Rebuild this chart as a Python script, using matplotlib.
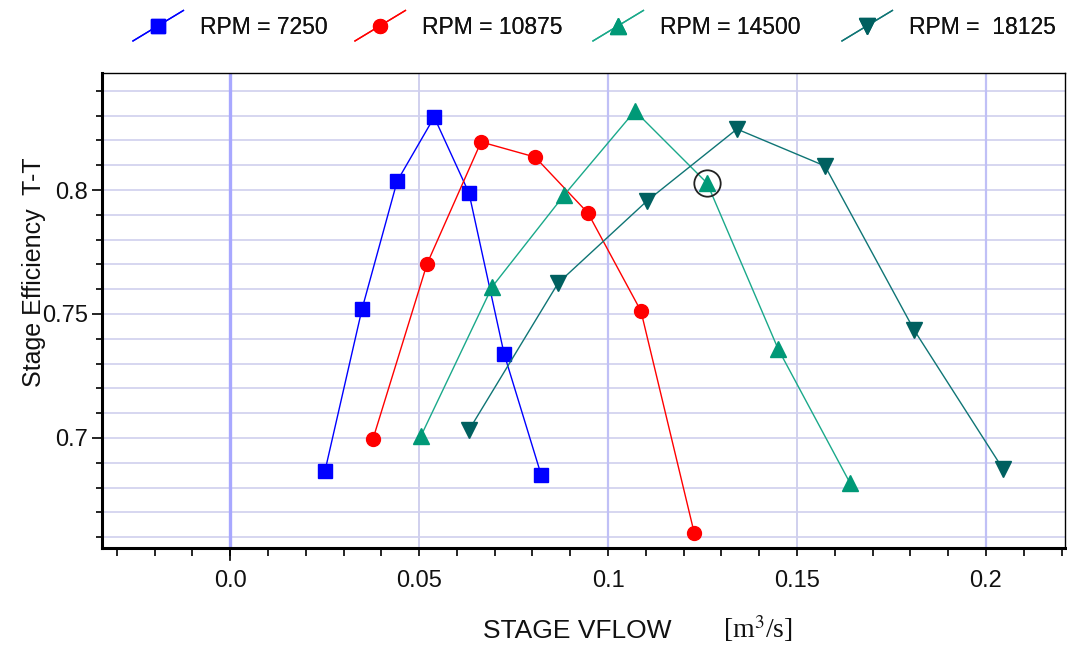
import matplotlib
matplotlib.use('Agg')

import matplotlib.pyplot as plt
from matplotlib.lines import Line2D
from matplotlib.legend_handler import HandlerLine2D
from matplotlib.ticker import FixedLocator, MultipleLocator

plt.rcParams['font.family'] = ['Liberation Sans', 'DejaVu Sans']

# stage volume flow [m3/s] and total-to-total stage efficiency, per speed line
flow_7250 = [0.0251, 0.0349, 0.0442, 0.0540, 0.0632, 0.0725, 0.0823]
eff_7250 = [0.6867, 0.7520, 0.8036, 0.8294, 0.7988, 0.7339, 0.6851]

flow_10875 = [0.0378, 0.0521, 0.0664, 0.0807, 0.0947, 0.1087, 0.1228]
eff_10875 = [0.6996, 0.7702, 0.8194, 0.8133, 0.7907, 0.7512, 0.6617]

flow_14500 = [0.0505, 0.0693, 0.0884, 0.1071, 0.1262, 0.1450, 0.1640]
eff_14500 = [0.7008, 0.7609, 0.7980, 0.8319, 0.8028, 0.7359, 0.6819]

flow_18125 = [0.0632, 0.0868, 0.1103, 0.1341, 0.1574, 0.1810, 0.2045]
eff_18125 = [0.7032, 0.7625, 0.7956, 0.8246, 0.8097, 0.7435, 0.6875]

labels = ["RPM = 7250", "RPM = 10875", "RPM = 14500", "RPM =  18125"]
highlight_idx = 4  # circled point on the 14500 rpm line

x_ticks = [0.0, 0.05, 0.1, 0.15, 0.2]
x_tick_labels = ["0.0", "0.05", "0.1", "0.15", "0.2"]
y_ticks = [0.7, 0.75, 0.8]
y_tick_labels = ["0.7", "0.75", "0.8"]


class DiagonalHandler(HandlerLine2D):
    """Legend key drawn as a slanted line with the marker in the middle."""

    def create_artists(self, legend, orig_handle, xdescent, ydescent,
                       width, height, fontsize, trans):
        x0, y0 = -xdescent, -ydescent
        line = Line2D([x0, x0 + width], [y0 - 0.45 * height, y0 + 1.45 * height])
        self.update_prop(line, orig_handle, legend)
        line.set_marker('')
        line.set_transform(trans)
        mark = Line2D([x0 + width / 2], [y0 + height / 2])
        self.update_prop(mark, orig_handle, legend)
        mark.set_linestyle('')
        mark.set_transform(trans)
        return [line, mark]


fig = plt.figure(figsize=(10.67, 6.48), dpi=100)
ax = fig.add_axes([0.0956, 0.1543, 0.9025, 0.7330])

series = [
    (flow_7250, eff_7250, '#0000ff', '#0000ff', 's', 10),
    (flow_10875, eff_10875, '#ff0000', '#ff0000', 'o', 10),
    (flow_14500, eff_14500, '#1aa98a', '#009977', '^', 11),
    (flow_18125, eff_18125, '#0f7575', '#006060', 'v', 11),
]
handles = []
for (xs, ys, lc, mc, mk, ms), lab in zip(series, labels):
    h, = ax.plot(xs, ys, color=lc, linewidth=1.0, marker=mk, markersize=ms,
                 markerfacecolor=mc, markeredgecolor=mc, label=lab, zorder=3)
    handles.append(h)

ax.plot(flow_14500[highlight_idx], eff_14500[highlight_idx], marker='o',
        markersize=19, markerfacecolor='none', markeredgecolor='#222222',
        markeredgewidth=1.3, linestyle='', zorder=4)

ax.set_xlim(-0.0339, 0.2209)
ax.set_ylim(0.6556, 0.8472)

ax.xaxis.set_major_locator(FixedLocator(x_ticks))
ax.set_xticklabels(x_tick_labels)
ax.xaxis.set_minor_locator(MultipleLocator(0.01))
ax.yaxis.set_major_locator(FixedLocator(y_ticks))
ax.set_yticklabels(y_tick_labels)
ax.yaxis.set_minor_locator(MultipleLocator(0.01))

ax.tick_params(which='both', direction='out', width=1.2, color='black',
               labelsize=17, labelcolor='#111111')
ax.tick_params(axis='x', which='both', length=6, pad=10)
ax.tick_params(axis='y', which='major', length=7, pad=3)
ax.tick_params(axis='y', which='minor', length=4)
# the origin tick hangs a bit lower than the others
ax.plot([0.0, 0.0], [0.0, -0.026], color='black', linewidth=1.2,
        transform=ax.get_xaxis_transform(), clip_on=False)

# grid: horizontal lines on every minor y tick, vertical on the major x ticks
ax.grid(which='both', axis='y', color='#d0d0ee', linewidth=1.2, zorder=0)
for xv in x_ticks:
    if xv == 0.0:
        ax.axvline(xv, color='#a8a8ff', linewidth=2.4, zorder=1)
    elif xv in (0.1, 0.2):
        ax.axvline(xv, color='#c0c0f6', linewidth=1.6, zorder=1)
    else:
        ax.axvline(xv, color='#d0d0ee', linewidth=1.4, zorder=1)
ax.set_axisbelow(True)

for side in ['left', 'bottom']:
    ax.spines[side].set_linewidth(2.2)
for side in ['top', 'right']:
    ax.spines[side].set_linewidth(1.0)

ax.set_ylabel("Stage Efficiency  T-T", fontsize=18, color='#111111')
ax.yaxis.set_label_coords(-0.058, 0.581)
fig.text(0.4527, 0.0154, "STAGE VFLOW", fontsize=19, color='#111111',
         ha='left', va='baseline')
fig.text(0.6776, 0.0154, "[m$^3$/s]", fontsize=20, color='#111111',
         ha='left', va='baseline', family='Liberation Serif', math_fontfamily='stix')

# one legend per entry so each sits where it does in the original
legend_x = [133, 355, 593, 842]
for h, lab, px in zip(handles, labels, legend_x):
    leg = fig.legend(handles=[h], labels=[lab], loc='center left',
                     bbox_to_anchor=(px / 1067, 0.958), frameon=False,
                     fontsize=16.5, handlelength=2.2, handletextpad=0.72,
                     borderpad=0, borderaxespad=0, labelcolor='#111111',
                     handler_map={Line2D: DiagonalHandler()})
    fig.add_artist(leg)

fig.savefig('out.png', dpi=100)
plt.close(fig)
